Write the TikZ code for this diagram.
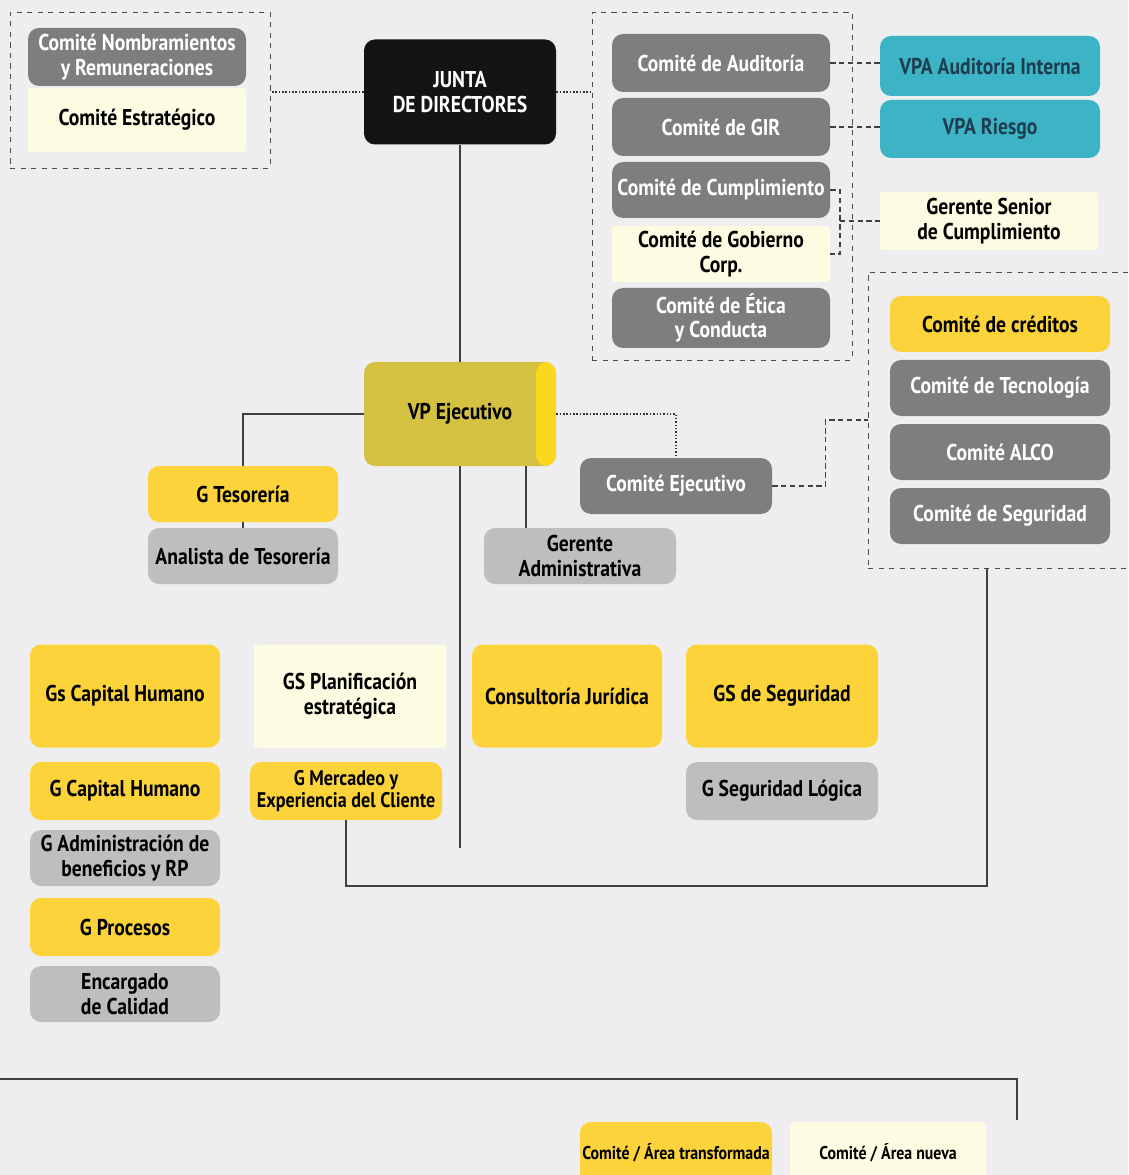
\documentclass[tikz,border=0pt]{standalone}
\usepackage{fontspec}
\setmainfont{PT Sans}[FakeStretch=0.86]
\usetikzlibrary{calc}
\definecolor{fondo}{RGB}{238,238,241}
\definecolor{grisosc}{RGB}{126,126,128}
\definecolor{grisclaro}{RGB}{190,190,192}
\definecolor{amarillo}{RGB}{253,211,60}
\definecolor{crema}{RGB}{253,252,226}
\definecolor{turquesa}{RGB}{60,180,198}
\definecolor{turqtexto}{RGB}{30,62,80}
\definecolor{oliva}{RGB}{212,193,66}
\definecolor{franja}{RGB}{250,216,30}
\definecolor{negro}{RGB}{20,20,20}
\begin{document}
\begin{tikzpicture}[x=0.02cm, y=-0.02cm,
	tam/.style 2 args={minimum width=#1*0.02cm, minimum height=#2*0.02cm},
	caja/.style={rectangle, rounded corners=0.22cm, align=center, inner sep=1pt, font=\bfseries\fontsize{13}{14}\selectfont},
	gris/.style={caja, fill=grisosc, text=white},
	grisc/.style={caja, fill=grisclaro, text=black},
	amar/.style={caja, fill=amarillo, text=black},
	nueva/.style={caja, fill=crema, text=black, rounded corners=0.06cm},
	turq/.style={caja, fill=turquesa, text=turqtexto},
	marco/.style={draw=black!70, dashed, line width=0.5pt, rectangle},
	linea/.style={draw=black!75, line width=0.8pt},
	punteado/.style={draw=black!80, densely dotted, line width=0.9pt},
	discont/.style={draw=black!75, densely dashed, line width=0.6pt}]

					\fill[fondo] (0,0) rectangle (1128,1175);
					\useasboundingbox (0,0) rectangle (1128,1175);

					\node[marco, tam={260}{156}] (marcoA) at (140,90) {};
					\node[gris, tam={218}{58}] (nombr) at (137,57) {Comité Nombramientos\\y Remuneraciones};
					\node[nueva, tam={218}{64}] (estrat) at (137,120) {Comité Estratégico};

					\node[caja, fill=negro, text=white, tam={192}{105}] (junta) at (460,92) {JUNTA\\DE DIRECTORES};

					\node[marco, tam={260}{348}] (marcoB) at (722,186) {};
					\node[gris, tam={218}{58}] (audit) at (721,63) {Comité de Auditoría};
					\node[gris, tam={218}{58}] (gir) at (721,127) {Comité de GIR};
					\node[gris, tam={218}{56}] (cumpl) at (721,190) {Comité de Cumplimiento};
					\node[nueva, tam={218}{56}] (gobierno) at (721,254) {Comité de Gobierno\\Corp.};
					\node[gris, tam={218}{60}] (etica) at (721,318) {Comité de Ética\\y Conducta};

					\node[turq, tam={220}{60}] (vpaaud) at (990,66) {VPA Auditoría Interna};
					\node[turq, tam={220}{58}] (vpariesgo) at (990,129) {VPA Riesgo};
					\node[nueva, tam={218}{58}] (gsenior) at (989,221) {Gerente Senior\\de Cumplimiento};

					\node[marco, tam={272}{296}] (marcoC) at (1004,420) {};
					\node[amar, tam={220}{56}] (creditos) at (1000,324) {Comité de créditos};
					\node[gris, tam={220}{56}] (tecno) at (1000,388) {Comité de Tecnología};
					\node[gris, tam={220}{56}] (alco) at (1000,452) {Comité ALCO};
					\node[gris, tam={220}{56}] (cseg) at (1000,516) {Comité de Seguridad};

					\node[caja, fill=oliva, text=black, tam={192}{104},
						path picture={\fill[franja] ($(path picture bounding box.north east)+(-20,0)$) rectangle (path picture bounding box.south east);}] (vp) at (460,414) {VP Ejecutivo};
					\node[gris, tam={192}{56}] (cejec) at (676,486) {Comité Ejecutivo};
					\node[amar, tam={190}{56}] (gteso) at (243,494) {G Tesorería};
					\node[grisc, tam={190}{56}] (analista) at (243,556) {Analista de Tesorería};
					\node[grisc, tam={192}{56}] (gadmin) at (580,556) {Gerente\\Administrativa};

					\node[amar, tam={190}{103}] (gscap) at (125,696) {Gs Capital Humano};
					\node[nueva, tam={192}{103}] (gsplan) at (350,696) {GS Planificación\\estratégica};
					\node[amar, tam={190}{103}] (consult) at (567,696) {Consultoría Jurídica};
					\node[amar, tam={192}{103}] (gsseg) at (782,696) {GS de Seguridad};
					\node[amar, tam={190}{58}] (gcap) at (125,791) {G Capital Humano};
					\node[grisc, tam={190}{56}] (gadminben) at (125,858) {G Administración de\\beneficios y RP};
					\node[amar, tam={190}{58}] (gproc) at (125,927) {G Procesos};
					\node[grisc, tam={190}{56}] (encarg) at (125,994) {Encargado\\de Calidad};
					\node[amar, tam={192}{58}, font=\bfseries\fontsize{12}{13}\selectfont] (gmerc) at (346,791) {G Mercadeo y\\Experiencia del Cliente};
					\node[grisc, tam={192}{58}] (gseglog) at (782,791) {G Seguridad Lógica};

					\node[amar, tam={192}{62}, font=\bfseries\fontsize{10.5}{12}\selectfont] (leg1) at (676,1153) {Comité / Área transformada};
					\node[nueva, tam={196}{62}, font=\bfseries\fontsize{10.5}{12}\selectfont] (leg2) at (888,1153) {Comité / Área nueva};

					\draw[punteado] (junta.west) -- (junta.west -| marcoA.east);
					\draw[punteado] (junta.east) -- (junta.east -| marcoB.west);
					\draw[discont] (audit.east) -- (audit.east -| vpaaud.west);
					\draw[discont] (gir.east) -- (gir.east -| vpariesgo.west);
					\coordinate (llave) at (840,221);
					\draw[discont] (cumpl.east) -| (llave) |- (gobierno.east);
					\draw[discont] (llave) -- (gsenior.west);

					\draw[linea] (junta) -- (vp);
					\draw[linea] (vp.west) -| (gteso.north);
					\draw[linea] (gteso) -- (analista);
					\draw[linea] ($(vp.south)+(66,0)$) coordinate (va) -- (va |- gadmin.north);
					\coordinate (finvp) at (460,848);
					\draw[linea] (vp.south) -- (finvp);
					\draw[punteado] (vp.east) -| (cejec.north);
					\draw[discont] (cejec.east) -- ++(53,0) |- (marcoC.west);
					\coordinate (esquina) at (987,886);
					\draw[linea] (marcoC.south -| esquina) -- (esquina) -| (gmerc.south);

					\coordinate (izq) at (0,1079);
					\coordinate (der) at (1017,1079);
					\draw[linea] (izq) -- (der) -- ++(0,41);

\end{tikzpicture}
\end{document}
